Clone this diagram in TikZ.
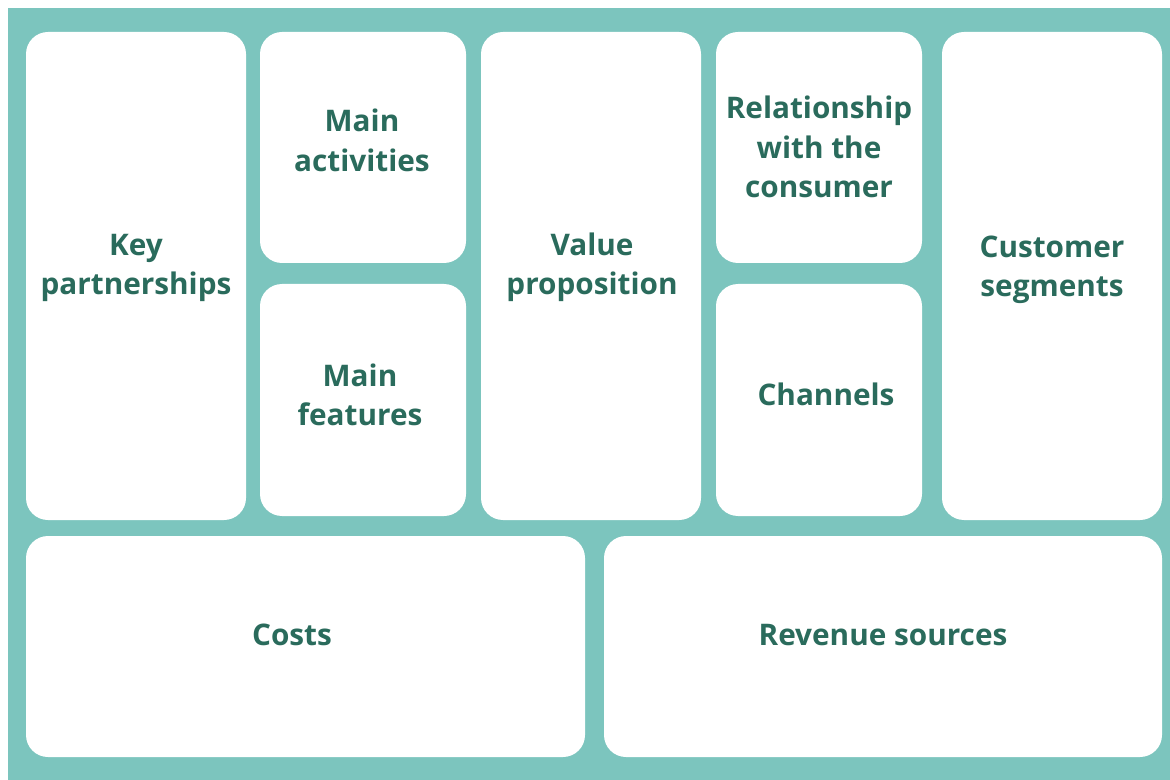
\documentclass[tikz,border=0pt]{standalone}
\usepackage{fontspec}
\setmainfont{Open Sans}[BoldFont={* Bold}]
\definecolor{teal}{HTML}{7CC5BE}
\definecolor{txt}{HTML}{2A6B5C}
\begin{document}
\begin{tikzpicture}[x=0.75pt,y=-0.75pt,
  box/.style={fill=white, draw=none, rounded corners=16.5pt, inner sep=0pt},
  lbl/.style={text=txt, font=\fontsize{22.3}{29.5}\selectfont\bfseries, align=center, inner sep=0pt}]
\useasboundingbox (0,0) rectangle (1170,780);
\fill[white] (0,0) rectangle (1170,780);
\fill[teal] (8,8) rectangle (1170,780);
% boxes
\node[box, minimum width=165pt, minimum height=366pt] (kp) at (136,276) {};
\node[box, minimum width=154.5pt, minimum height=173.25pt] (ma) at (363,147.5) {};
\node[box, minimum width=154.5pt, minimum height=174pt] (mf) at (363,400) {};
\node[box, minimum width=165pt, minimum height=366pt] (vp) at (591,276) {};
\node[box, minimum width=154.5pt, minimum height=173.25pt] (rc) at (819,147.5) {};
\node[box, minimum width=154.5pt, minimum height=174pt] (ch) at (819,400) {};
\node[box, minimum width=165pt, minimum height=366pt] (cs) at (1052,276) {};
\node[box, minimum width=419.25pt, minimum height=165.75pt] (co) at (305.5,646.5) {};
\node[box, minimum width=418.5pt, minimum height=165.75pt] (rs) at (883,646.5) {};
% labels
\node[lbl] (kpt) at (136,268) {Key\\partnerships};
\node[lbl] (mat) at (362,140.5) {Main\\activities};
\node[lbl] (mft) at (360,395) {Main\\features};
\node[lbl] (vpt) at (592,267) {Value\\proposition};
\node[lbl] (rct) at (819,147) {Relationship\\with the\\consumer};
\node[lbl] (cht) at (826,394) {Channels};
\node[lbl] (cst) at (1052,270) {Customer\\segments};
\node[lbl] (cot) at (292,635) {Costs};
\node[lbl] (rst) at (883,635) {Revenue sources};
\end{tikzpicture}
\end{document}
